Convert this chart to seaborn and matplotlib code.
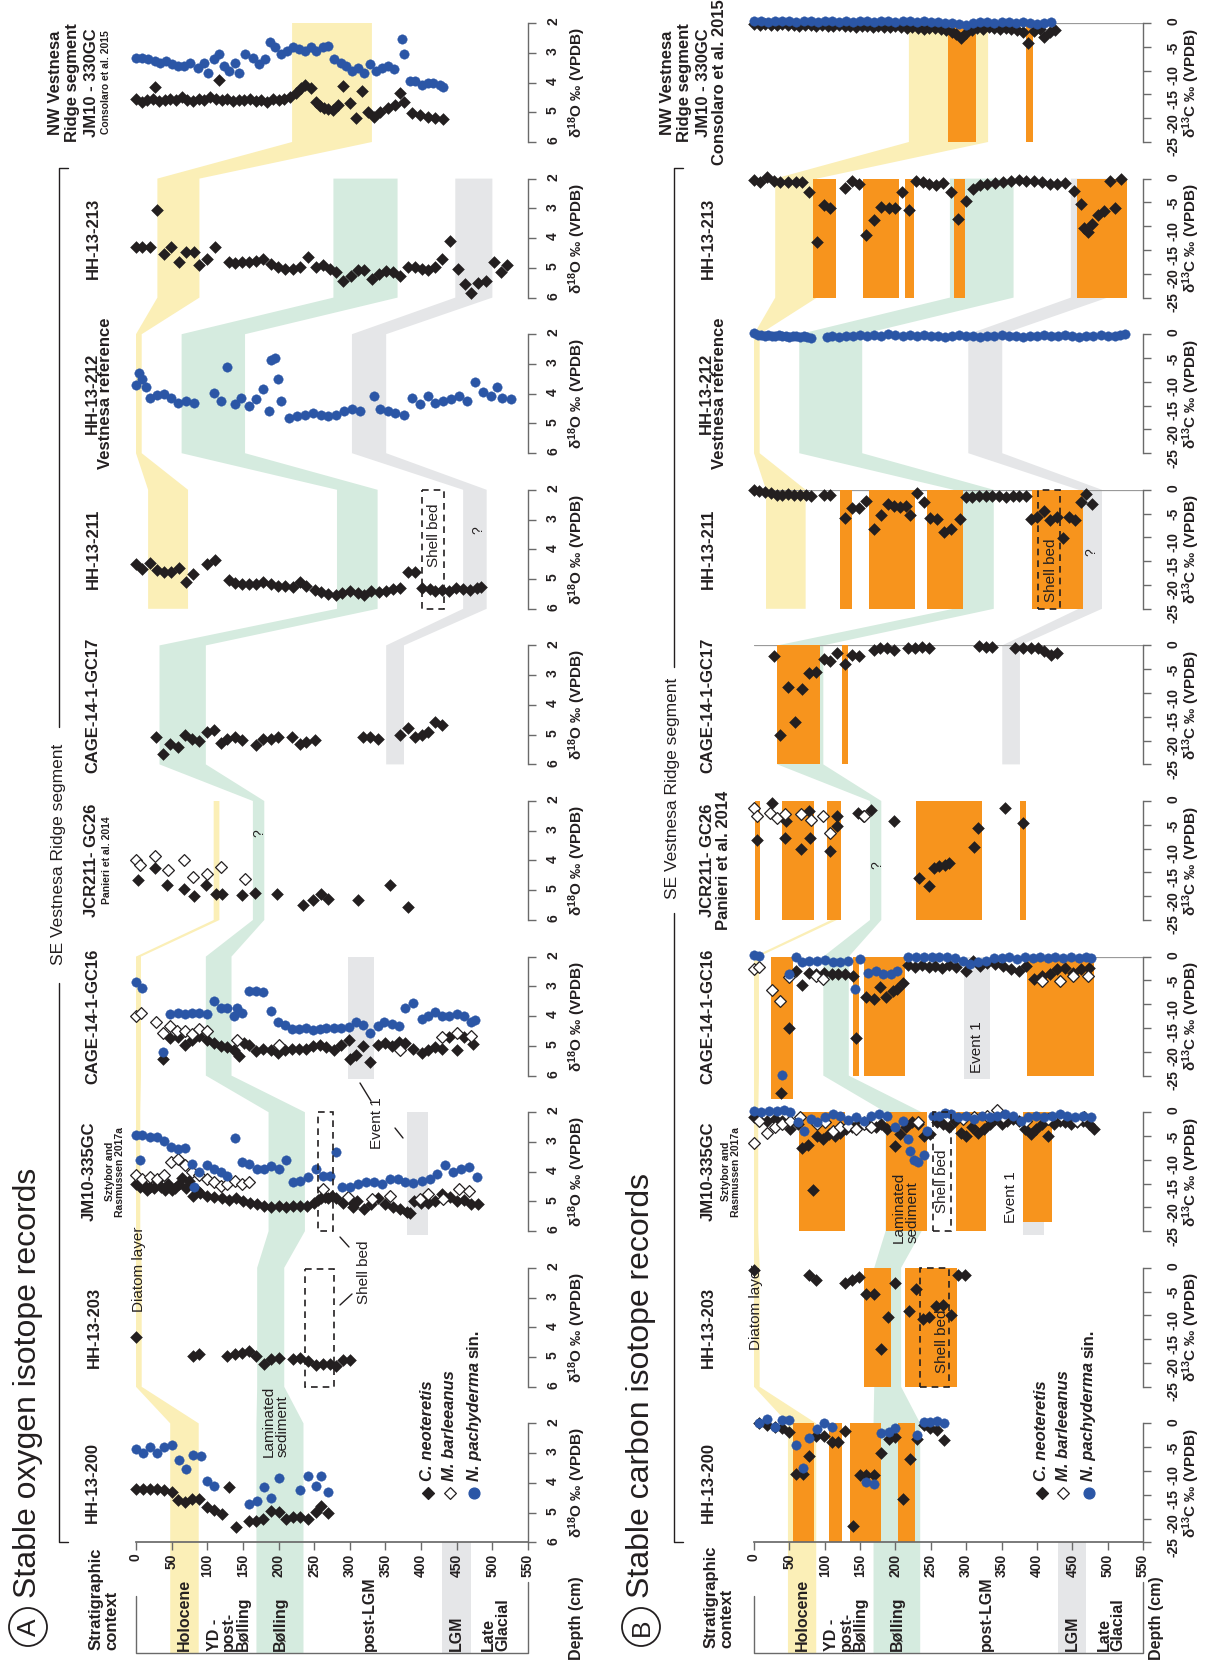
import matplotlib
matplotlib.use("Agg")
import matplotlib.pyplot as plt
from matplotlib.patches import Polygon, Circle, Rectangle
import seaborn as sns

# ---------------- data: panel A, d18O (depth cm, permil) ----------------
a_h200_cn_d = [0, 10, 20, 30, 39, 51, 59, 69, 78, 89, 99, 109, 120, 130, 141, 159, 169, 178, 189, 201, 210, 220, 230, 241, 252, 260, 269]
a_h200_cn_v = [4.20, 4.20, 4.20, 4.20, 4.23, 4.31, 4.59, 4.65, 4.54, 4.54, 4.82, 4.91, 5.04, 4.14, 5.49, 5.27, 5.27, 5.21, 4.93, 4.99, 5.21, 5.16, 5.16, 5.21, 4.99, 4.76, 5.02]
a_h200_np_d = [0, 10, 20, 30, 39, 51, 60, 70, 80, 91, 99, 110, 159, 170, 180, 190, 201, 230, 241, 252, 260, 269]
a_h200_np_v = [2.85, 2.98, 2.79, 2.98, 2.79, 2.73, 3.22, 3.52, 3.07, 3.10, 3.92, 4.12, 4.70, 4.61, 4.14, 4.51, 3.83, 4.25, 3.78, 4.12, 3.78, 4.31]

a_h203_cn_d = [0, 80, 89, 128, 139, 149, 159, 169, 179, 189, 201, 220, 230, 241, 252, 262, 272, 281, 291, 300]
a_h203_cn_v = [4.32, 4.97, 4.89, 4.97, 4.89, 4.86, 4.80, 4.95, 5.25, 5.08, 5.03, 5.08, 5.03, 5.14, 5.28, 5.25, 5.25, 5.31, 5.10, 5.10]

a_jm_cn_d = [0, 5, 10, 15, 20, 25, 30, 35, 40, 45, 50, 55, 60, 65, 70, 75, 80, 85, 90, 100, 110, 120, 130, 140, 150, 160, 170, 180, 190, 200, 210, 220, 230, 240, 250,
             255, 260, 265, 270, 275, 280, 290, 300, 305, 310, 320, 330, 340, 350, 360, 370, 380, 385, 390, 400, 410, 420, 430, 440, 450, 460, 470, 480]
a_jm_cn_v = [4.4, 4.5, 4.4, 4.6, 4.5, 4.55, 4.3, 4.5, 4.6, 4.4, 4.6, 4.55, 4.4, 4.2, 4.55, 4.3, 4.8, 4.6, 4.7, 4.8, 4.85, 4.9, 4.95, 4.9, 5.0, 5.05, 5.1, 5.15, 5.2, 5.15, 5.2, 5.15, 5.15, 5.15, 5.05,
             4.95, 4.9, 4.85, 4.9, 4.8, 4.9, 5.05, 4.95, 5.2, 5.0, 5.25, 5.1, 4.9, 5.1, 5.2, 5.25, 5.35, 5.4, 5.0, 5.05, 5.05, 5.0, 4.75, 4.85, 5.0, 4.95, 5.1, 5.1]
a_jm_np_d = [0, 6, 9, 20, 30, 39, 49, 59, 69, 78, 81, 89, 99, 109, 119, 128, 139, 149, 159, 170, 180, 189, 201, 210, 220, 230, 241, 252, 262, 272,
             281, 289, 300, 312, 323, 334, 345, 356, 367, 378, 389, 401, 412, 423, 434, 445, 456, 467, 478]
a_jm_np_v = [2.78, 3.61, 2.78, 2.85, 2.82, 2.97, 3.16, 3.24, 3.19, 3.73, 4.52, 4.01, 3.78, 3.90, 4.01, 4.13, 2.88, 3.67, 3.73, 3.90, 3.90, 3.81, 3.90, 3.61, 4.35, 4.30, 4.18, 3.90, 4.13, 4.13,
             3.33, 4.52, 4.52, 4.41, 4.35, 4.35, 4.41, 4.24, 4.24, 4.35, 4.38, 4.30, 4.24, 4.07, 3.78, 4.01, 3.90, 3.84, 4.18]
a_jm_mb_d = [0, 9, 20, 30, 39, 49, 59, 69, 78, 89, 99, 109, 119, 128, 139, 149, 159, 262, 298, 331, 356, 398, 409, 431, 453, 467]
a_jm_mb_v = [4.12, 4.24, 4.18, 4.24, 4.12, 3.67, 3.56, 3.78, 4.01, 4.12, 4.24, 4.35, 4.47, 4.41, 4.30, 4.41, 4.35, 4.58, 4.86, 4.92, 4.81, 4.92, 4.75, 4.92, 4.58, 4.64]

a_gc16_np_d = [0, 9, 38, 48, 59, 69, 78, 88, 99, 109, 119, 128, 138, 142, 149, 159, 169, 178, 189, 199, 209, 219, 228, 238, 248, 258, 267, 278, 288, 299,
               309, 319, 329, 339, 348, 359, 369, 378, 389, 401, 410, 420, 430, 439, 450, 460, 470, 476]
a_gc16_np_v = [2.86, 3.05, 5.2, 3.92, 3.9, 3.93, 3.9, 3.9, 3.93, 3.5, 3.72, 3.72, 4.0, 3.72, 3.9, 3.14, 3.14, 3.2, 3.83, 4.2, 4.29, 4.43, 4.43, 4.4, 4.48, 4.43, 4.4, 4.4, 4.4, 4.37,
               4.2, 4.29, 4.57, 4.34, 4.2, 4.26, 4.34, 3.72, 3.57, 4.1, 4.0, 3.87, 4.0, 4.0, 3.93, 4.0, 4.2, 4.12]
a_gc16_cn_d = [38, 48, 59, 69, 78, 88, 99, 109, 119, 128, 138, 144, 151, 159, 169, 178, 189, 199, 209, 219, 228, 238, 248, 258, 267, 278, 288, 299, 300, 309,
               319, 329, 339, 349, 359, 369, 378, 389, 401, 410, 420, 430, 439, 450, 460, 473]
a_gc16_cn_v = [5.43, 4.74, 4.69, 4.97, 4.8, 4.66, 4.8, 4.91, 5.0, 5.05, 5.14, 5.34, 4.89, 4.97, 5.17, 5.09, 5.14, 5.23, 5.14, 5.09, 5.09, 5.09, 5.0, 4.97, 5.05, 5.14, 4.97, 4.8, 5.43, 5.31,
               5.0, 5.54, 4.97, 4.91, 5.0, 4.86, 4.89, 5.09, 5.23, 5.14, 5.05, 5.09, 4.69, 5.14, 4.69, 4.94]
a_gc16_mb_d = [0, 7, 28, 38, 48, 58, 69, 78, 88, 99, 142, 201, 370, 430, 450, 470]
a_gc16_mb_v = [3.98, 3.9, 4.2, 4.57, 4.34, 4.51, 4.51, 4.6, 4.43, 4.51, 4.8, 4.97, 5.14, 4.69, 4.57, 4.66]

a_jcr_cn_d = [3, 26, 44, 67, 81, 98, 112, 120, 149, 167, 198, 234, 248, 259, 270, 312, 356, 381]
a_jcr_cn_v = [4.67, 4.26, 4.81, 4.97, 5.2, 4.81, 5.11, 5.14, 5.17, 5.09, 5.11, 5.48, 5.33, 5.11, 5.31, 5.33, 4.81, 5.56]
a_jcr_mb_d = [0, 6, 26, 45, 67, 80, 99, 119, 153]
a_jcr_mb_v = [4.0, 4.14, 3.86, 4.33, 3.98, 4.56, 4.44, 4.22, 4.63]

a_gc17_cn_d = [28, 38, 48, 59, 69, 79, 89, 99, 109, 119, 128, 139, 149, 169, 178, 189, 199, 219, 230, 239, 251, 319, 329, 339, 370, 381, 391, 401, 410, 420, 430]
a_gc17_cn_v = [5.07, 5.66, 5.3, 5.41, 5.01, 5.13, 5.2, 4.9, 4.84, 5.27, 5.16, 5.09, 5.18, 5.35, 5.16, 5.13, 5.07, 5.09, 5.3, 5.24, 5.18, 5.09, 5.07, 5.16, 5.01, 4.78, 5.07, 5.01, 4.9, 4.56, 4.67]

a_h211_cn_d = [0, 9, 20, 30, 39, 49, 60, 70, 80, 99, 111, 130, 139, 149, 159, 169, 178, 189, 199, 209, 220, 230, 239, 251, 260, 270, 280, 289, 300, 311,
               320, 330, 341, 351, 361, 371, 381, 391, 401, 412, 420, 430, 439, 449, 459, 469, 478, 484]
a_h211_cn_v = [4.5, 4.67, 4.45, 4.69, 4.75, 4.75, 4.64, 5.09, 4.82, 4.5, 4.37, 5.04, 5.12, 5.18, 5.18, 5.15, 5.09, 5.18, 5.23, 5.23, 5.27, 5.09, 5.23, 5.38, 5.43, 5.49, 5.54, 5.46, 5.4, 5.46,
               5.52, 5.4, 5.43, 5.4, 5.35, 5.29, 4.75, 4.75, 5.31, 5.35, 5.4, 5.38, 5.4, 5.31, 5.35, 5.38, 5.31, 5.27]

a_h212_np_d = [0, 4, 9, 14, 20, 30, 39, 49, 59, 70, 81, 109, 119, 128, 139, 148, 159, 169, 178, 186, 189, 195, 199, 204, 214, 226, 237, 248, 259, 270,
               281, 292, 303, 314, 334, 342, 353, 364, 376, 387, 398, 409, 420, 431, 442, 453, 464, 476, 487, 498, 506, 514, 526]
a_h212_np_v = [3.72, 3.32, 3.49, 3.78, 4.13, 4.05, 4.01, 4.13, 4.3, 4.24, 4.3, 3.99, 4.24, 3.09, 4.36, 4.13, 4.41, 4.18, 3.84, 4.59, 2.86, 2.8, 3.49, 4.24, 4.82, 4.76, 4.7, 4.64, 4.7, 4.76,
               4.7, 4.59, 4.53, 4.59, 4.07, 4.53, 4.59, 4.64, 4.7, 4.13, 4.36, 4.07, 4.3, 4.24, 4.18, 4.07, 4.24, 3.61, 3.95, 4.07, 3.78, 4.13, 4.18]

a_h213_cn_d = [0, 9, 20, 30, 39, 49, 60, 70, 81, 89, 99, 111, 130, 139, 149, 159, 169, 178, 189, 199, 209, 220, 230, 241, 252, 262, 272, 281, 291, 301,
               311, 320, 331, 341, 351, 361, 370, 381, 391, 401, 410, 420, 430, 441, 452, 462, 470, 480, 491, 502, 512, 520]
a_h213_cn_v = [4.29, 4.29, 4.29, 3.05, 4.54, 4.29, 4.8, 4.46, 4.46, 4.91, 4.69, 4.29, 4.8, 4.83, 4.8, 4.8, 4.77, 4.69, 4.86, 4.97, 5.03, 5.03, 4.97, 4.65, 4.97, 4.91, 5.03, 5.14, 5.43, 5.26,
               5.06, 5.06, 5.37, 5.2, 5.09, 5.14, 5.26, 4.97, 4.97, 5.03, 5.06, 4.97, 4.69, 4.11, 5.03, 5.54, 5.83, 5.52, 5.43, 4.8, 5.14, 4.91]

a_nw_cn_d = [0, 8, 16, 24, 27, 32, 40, 48, 56, 64, 72, 80, 88, 96, 104, 112, 117, 120, 128, 136, 144, 152, 160, 168, 176, 184, 192, 200, 208, 216,
             224, 232, 237, 245, 253, 264, 276, 291, 300, 309, 317, 326, 334, 342, 353, 364, 370, 376, 387, 398, 409, 420, 431, 258, 270, 284]
a_nw_cn_v = [4.55, 4.65, 4.6, 4.55, 4.16, 4.62, 4.58, 4.55, 4.6, 4.5, 4.6, 4.62, 4.55, 4.6, 4.5, 4.55, 3.9, 4.6, 4.55, 4.62, 4.58, 4.6, 4.55, 4.62, 4.6, 4.65, 4.55, 4.6, 4.55, 4.5,
             4.35, 4.2, 4.07, 4.18, 4.64, 4.86, 4.92, 4.12, 4.69, 5.2, 4.3, 4.98, 5.15, 4.98, 4.86, 4.75, 4.35, 4.64, 5.03, 5.1, 5.15, 5.2, 5.23, 4.8, 4.9, 4.75]
a_nw_np_d = [0, 9, 17, 26, 34, 42, 51, 59, 67, 76, 87, 95, 101, 109, 117, 123, 131, 139, 145, 153, 164, 173, 181, 188, 195, 203, 212, 220, 228, 237,
             245, 253, 262, 270, 278, 287, 295, 303, 312, 320, 328, 337, 345, 353, 362, 373, 376, 384, 392, 401, 409, 417, 426, 431]
a_nw_np_v = [3.16, 3.18, 3.22, 3.27, 3.33, 3.27, 3.39, 3.44, 3.44, 3.33, 3.5, 3.33, 3.67, 3.22, 3.05, 3.44, 3.61, 3.33, 3.67, 3.05, 3.16, 3.39, 3.22, 2.65, 2.82, 3.05, 2.93, 2.82, 2.88, 2.93,
             2.82, 2.93, 2.82, 2.76, 3.22, 3.33, 3.44, 3.61, 3.5, 3.67, 3.39, 3.61, 3.5, 3.44, 3.56, 2.53, 3.05, 3.95, 3.95, 4.07, 4.01, 4.01, 4.07, 4.16]

# ---------------- data: panel B, d13C ----------------
b_h200_cn_d = [7, 18, 29, 40, 49, 59, 69, 78, 88, 99, 110, 119, 129, 140, 150, 159, 170, 180, 191, 200, 210, 221, 231, 240, 249, 259, 268]
b_h200_cn_v = [0, -0.4, -0.7, -0.9, -1.8, -10.6, -10.6, -6.8, -2.6, -2.6, -3.9, -3.9, -1.6, -21.5, -10.9, -10.9, -10.9, -6.3, -3.2, -2.8, -15.8, -7.4, -3.2, -0.35, -0.9, -1.4, -3.4]
b_h200_np_d = [7, 18, 29, 40, 49, 59, 69, 78, 89, 99, 110, 159, 169, 180, 191, 200, 231, 240, 249, 259, 268]
b_h200_np_v = [0, 0.9, -0.7, 0.7, 0.7, -4.6, -9.4, -3.0, -1.1, 0, -0.7, -12.3, -12.7, -2.1, -1.9, -0.9, -2.5, 0.35, 0.35, 0.5, 0]

b_h203_cn_d = [0, 78, 88, 129, 139, 148, 159, 170, 180, 189, 200, 219, 229, 239, 248, 258, 267, 278, 289, 298]
b_h203_cn_v = [-0.4, -1.6, -2.6, -3.1, -2.6, -2.0, -5.6, -5.6, -17, -10.3, -3.1, -9.1, -4.5, -10.8, -10.3, -8.1, -7.8, -9.9, -1.6, -1.6]

b_jm_cn_d = [0, 7, 18, 29, 40, 51, 62, 68, 76, 83, 89, 98, 106, 114, 122, 130, 139, 147, 155, 163, 172, 180, 188, 199, 207, 215, 224, 232, 240, 249,
             259, 267, 276, 284, 292, 300, 308, 317, 325, 333, 341, 350, 358, 366, 374, 383, 391, 399, 407, 415, 424, 432, 440, 448, 456, 465, 473, 481]
b_jm_cn_v = [-1.1, -1.6, -1.8, -1.4, -1.9, -3.6, -2.5, -7.5, -6.8, -16.4, -5.0, -5.7, -4.6, -5.0, -4.3, -3.6, -3.2, -2.5, -2.1, -2.9, -3.2, -2.4, -3.6, -7.1, -4.6, -3.2, -2.1, -2.5, -5.0, -4.6,
             -2.1, -2.5, -3.1, -1.8, -4.3, -5.0, -3.2, -4.3, -3.6, -2.5, -1.4, -2.5, -1.9, -1.4, -1.8, -3.6, -4.6, -3.6, -2.5, -5.0, -2.5, -1.8, -2.1, -2.5, -2.1, -1.8, -2.4, -3.6]
b_jm_np_d = [0, 10, 21, 32, 43, 51, 62, 70, 81, 89, 100, 111, 122, 133, 144, 155, 166, 177, 188, 199, 210, 218, 221, 226, 232, 240, 245, 253, 262, 270,
             278, 289, 300, 311, 322, 333, 344, 355, 366, 377, 388, 399, 410, 421, 432, 443, 454, 465, 476]
b_jm_np_v = [0.2, 0.1, 0.2, 0.2, 0.4, 0, -2.1, -3.9, -1.4, -2.1, -1.1, -0.4, -0.9, -1.6, -1.1, -1.8, -0.7, -0.4, -0.9, -3.1, -1.8, -5.7, -8.2, -10.0, -10.4, -8.9, -3.9, -0.7, -0.7, -0.2,
             -0.4, -1.1, -0.7, -1.4, -0.7, -1.1, -0.7, -0.4, -0.7, -1.8, -1.1, -0.7, -1.1, -0.7, -0.4, -0.7, -1.1, -0.7, -1.1]
b_jm_mb_d = [0, 7, 18, 29, 40, 51, 65, 89, 100, 111, 122, 133, 144, 155, 166, 232, 295, 311, 330, 344, 352, 385, 415, 434, 456, 467]
b_jm_mb_v = [-6.4, -1.8, -4.3, -3.2, -2.5, -1.8, -1.1, -2.5, -2.1, -3.9, -3.2, -2.9, -3.6, -2.5, -3.2, -2.1, -1.4, -1.1, -0.7, 0.4, -1.1, -1.8, -1.4, -0.7, -1.8, -1.1]

b_gc16_cn_d = [38, 49, 59, 68, 78, 88, 99, 110, 119, 129, 140, 144, 158, 169, 178, 187, 196, 202, 210, 218, 227, 237, 247, 256, 266, 276, 285, 300, 310, 319,
               330, 341, 352, 363, 374, 385, 396, 407, 418, 429, 440, 451, 462, 473]
b_gc16_cn_v = [-28.7, -15.1, -3.0, -5.9, -3.4, -3.7, -3.4, -3.6, -3.6, -3.7, -4.1, -17.1, -8.4, -8.9, -6.3, -8.4, -7.3, -6.9, -5.5, -1.7, -2.1, -1.7, -2.1, -1.9, -2.3, -1.7, -2.1, -3.0, -1.0, -1.9,
               -1.4, -1.6, -1.9, -2.6, -3.0, -1.9, -4.8, -4.1, -3.7, -2.6, -2.3, -3.4, -2.6, -2.3]
b_gc16_np_d = [0, 7, 39, 49, 59, 68, 78, 89, 100, 111, 122, 133, 143, 150, 161, 172, 183, 194, 202, 218, 229, 240, 251, 262, 273, 284, 295, 306, 317, 328,
               339, 350, 361, 372, 383, 394, 405, 415, 426, 437, 448, 459, 470, 477]
b_gc16_np_v = [0.4, 0.2, -24.8, -3.7, 0, -1.2, -0.9, -0.9, -0.7, -1.1, -1.2, -0.9, -6.8, -0.5, -3.4, -3.1, -3.7, -3.7, -3.0, -0.1, -0.1, 0, -0.1, 0, -0.1, -0.3, -0.9, -1.6, -1.2, -0.9,
               -0.3, -0.3, -0.1, -0.5, -0.1, -0.3, -0.1, -0.3, -0.1, -0.3, -0.1, -0.3, -0.1, -0.3]
b_gc16_mb_d = [0, 7, 26, 37, 49, 87, 98, 407, 432, 451, 472]
b_gc16_mb_v = [-2.6, -2.1, -7.1, -9.4, -4.3, -4.1, -4.8, -5.1, -5.1, -4.1, -4.1]

b_jcr_cn_d = [4, 26, 44, 45, 66, 78, 79, 107, 118, 118, 147, 154, 166, 198, 233, 247, 255, 262, 270, 276, 311, 317, 355, 381]
b_jcr_cn_v = [-8.1, -0.35, -7.7, -4.2, -10.1, -2.1, -7.8, -10.6, -3.2, -5.3, -2.5, -3.2, -1.8, -4.2, -16.2, -17.9, -14.1, -13.7, -13.4, -13.1, -9.7, -5.7, -1.4, -4.6]
b_jcr_mb_d = [0, 4, 23, 32, 44, 66, 81, 97, 108, 155]
b_jcr_mb_v = [-1.4, -3.2, -2.5, -3.5, -2.8, -2.8, -3.9, -3.2, -6.7, -3.2]

b_gc17_cn_d = [28, 37, 48, 58, 68, 78, 88, 99, 108, 118, 129, 139, 148, 169, 178, 188, 198, 218, 227, 237, 247, 318, 328, 337, 369, 380, 391, 401, 410, 420, 429]
b_gc17_cn_v = [-2.3, -18.8, -8.7, -16.1, -9.2, -5.8, -5.6, -2.8, -3.2, -1.6, -4.0, -2.1, -2.3, -0.9, -0.5, -0.6, -1.0, -0.5, -0.5, -0.35, -0.5, -0.1, -0.35, -0.35, -0.6, -0.6, -0.5, -0.6, -1.1, -2.1, -1.6]

b_h211_cn_d = [0, 7, 15, 24, 32, 40, 48, 56, 65, 73, 81, 99, 108, 129, 139, 148, 159, 169, 180, 189, 198, 207, 215, 221, 231, 240, 249, 259, 269, 278,
               291, 300, 308, 318, 328, 337, 347, 357, 366, 375, 385, 392, 400, 410, 418, 429, 437, 445, 454, 462, 470, 478]
b_h211_cn_v = [0, -0.3, -0.5, -0.7, -1.0, -1.0, -0.9, -1.0, -1.0, -1.0, -1.2, -1.0, -1.0, -5.9, -3.9, -3.8, -2.4, -8.2, -5.2, -2.9, -3.4, -3.6, -3.4, -5.2, -0.7, -2.5, -5.9, -6.1, -8.9, -8.2,
               -6.1, -1.6, -1.6, -1.4, -1.2, -1.4, -1.4, -1.6, -1.2, -1.4, -1.2, -6.1, -5.7, -4.5, -6.4, -5.7, -10.1, -5.7, -6.4, -2.5, -0.9, -2.9]

b_h212_np_d = [0, 5, 10, 15, 20, 25, 30, 35, 40, 45, 50, 55, 60, 65, 70, 75, 81, 103, 110, 120, 130, 140, 150, 160, 170, 180, 190, 200, 210, 220,
               230, 240, 250, 260, 270, 280, 290, 300, 310, 320, 330, 340, 350, 360, 370, 380, 390, 400, 410, 420, 430, 440, 450, 460, 470, 480, 490, 500, 510, 518, 525]
b_h212_np_v = [0.3, -0.1, -0.2, -0.3, -0.2, -0.4, -0.3, -0.2, -0.4, -0.3, -0.5, -0.3, -0.4, -0.6, -0.4, -0.5, -0.7, -0.6, -0.4, -0.5, -0.3, -0.4, -0.2, -0.3, -0.2, -0.4, 0.1, -0.2, -0.3, -0.1,
               -0.3, -0.2, -0.4, -0.3, -0.5, -0.3, -0.2, -0.4, -0.3, -0.5, -0.4, -0.3, -0.2, -0.4, -0.3, -0.5, -0.4, -0.3, -0.2, -0.4, -0.3, -0.2, -0.4, -0.5, -0.3, -0.4, -0.2, -0.3, -0.4, -0.2, 0.0]

b_h213_cn_d = [0, 8, 18, 28, 37, 48, 59, 68, 78, 89, 99, 108, 129, 139, 148, 159, 170, 180, 191, 200, 209, 219, 229, 239, 248, 258, 267, 278, 289, 300,
               310, 319, 330, 341, 352, 363, 374, 385, 396, 407, 418, 429, 440, 452, 462, 467, 472, 478, 487, 495, 503, 511, 519]
b_h213_cn_v = [-0.2, -0.7, 0.4, -0.5, -0.7, -0.7, -0.7, -0.7, -2.8, -13.3, -5.6, -6.2, -1.9, -0.6, -1.2, -11.8, -8.7, -6.0, -6.2, -6.2, -2.9, -6.6, -0.6, -0.7, -1.1, -1.4, -0.9, -2.9, -8.4, -4.7,
               -2.2, -1.4, -1.1, -0.9, -0.7, -0.5, -0.2, -0.4, -0.5, -0.7, -1.1, -1.2, -0.9, -2.5, -5.4, -10.4, -11.2, -9.6, -7.6, -6.9, -0.4, -6.2, 0]

b_nw_cn_d = [0, 8, 16, 24, 32, 40, 48, 56, 64, 72, 80, 88, 96, 104, 112, 120, 128, 136, 144, 152, 160, 168, 176, 184, 192, 200, 208, 216, 224, 232,
             240, 248, 256, 264, 272, 280, 286, 292, 300, 308, 316, 324, 332, 340, 348, 356, 364, 372, 380, 388, 396, 404, 410, 418, 425]
b_nw_cn_v = [-0.3, -0.4, -0.3, -0.5, -0.4, -0.3, -0.5, -0.4, -0.6, -0.5, -0.4, -0.6, -0.5, -0.7, -0.6, -0.5, -0.7, -0.6, -0.8, -0.7, -0.6, -0.8, -0.7, -0.9, -0.8, -0.7, -0.9, -1.0, -0.9, -1.1,
             -1.2, -1.0, -1.1, -1.3, -1.5, -1.8, -2.4, -3.2, -2.1, -1.4, -1.0, -1.2, -0.9, -1.1, -1.3, -1.0, -1.2, -1.5, -1.8, -4.3, -1.6, -1.3, -2.9, -1.8, -1.5]
b_nw_np_d = [0, 10, 20, 30, 40, 50, 60, 70, 80, 90, 100, 110, 120, 130, 140, 150, 160, 170, 180, 190, 200, 210, 220, 230, 240, 250, 260, 270, 280, 290,
             300, 310, 320, 330, 340, 350, 360, 370, 380, 390, 400, 410, 420]
b_nw_np_v = [0.4, 0.5, 0.3, 0.4, 0.5, 0.4, 0.3, 0.5, 0.4, 0.3, 0.4, 0.5, 0.3, 0.4, 0.3, 0.5, 0.4, 0.3, 0.4, 0.5, 0.3, 0.4, 0.5, 0.3, 0.4, 0.2, 0.3, 0.1, 0.0, -0.2,
             -0.5, 0.0, 0.2, 0.3, 0.1, 0.2, 0.3, 0.1, 0.2, 0.0, -0.3, 0.1, 0.2]

# orange intervals (depth from, depth to, lower d13C end)
or_cores = ["h200", "h203", "jm", "gc16", "jcr", "gc17", "h211", "h213", "nw"]
or_from = [[55, 106, 136, 203], [155, 213], [63, 187, 285, 381], [24, 140, 156, 386], [2, 40, 103, 229, 376],
           [33, 125], [122, 163, 245, 393], [84, 154, 214, 283, 456], [274, 385]]
or_to = [[85, 125, 179, 227], [193, 287], [129, 244, 328, 422], [55, 148, 213, 481], [9, 85, 123, 322, 385],
         [94, 133], [138, 228, 295, 465], [116, 205, 226, 299, 528], [314, 395]]
or_low = [[-25] * 4, [-25] * 2, [-25, -25, -25, -23], [-30, -25, -25, -25], [-25] * 5,
          [-25] * 2, [-25] * 4, [-25] * 5, [-25] * 2]

# correlation bands (depth ranges per core)
yel1_cores = ["h200", "h203", "jm", "gc16", "jcr"]
yel1_top = [48, 0, 0, 0, 109]
yel1_bot = [88, 8, 6, 7, 117]
yel2_cores = ["h211", "h212", "h213", "nw"]
yel2_top = [17, 0, 30, 219]
yel2_bot = [73, 8, 89, 331]
grn_cores = ["h200", "h203", "jm", "gc16", "jcr", "gc17", "h211", "h212", "h213"]
grn_top = [169, 170, 186, 98, 164, 33, 282, 64, 277]
grn_bot = [235, 208, 237, 134, 180, 98, 339, 153, 367]
gry_cores = ["gc17", "h211", "h212", "h213"]
gry_top = [351, 459, 303, 448]
gry_bot = [376, 492, 351, 500]
ev_cores = ["gc16", "jm"]
ev_top = [297, 380]
ev_bot = [334, 410]
lgm_range = [430, 470]
a_shell_cores = ["h203", "jm", "h211"]
a_shell_top = [237, 256, 401]
a_shell_bot = [278, 277, 432]
b_shell_cores = ["h203", "jm", "h211"]
b_shell_top = [235, 253, 402]
b_shell_bot = [276, 278, 432]

strat_labels = ["Holocene", "YD -\npost-\nBølling", "Bølling", "post-LGM", "LGM", "Late\nGlacial"]
strat_depth = [68, 130, 203, 328, 450, 505]
depth_ticks = list(range(0, 551, 50))

# ---------------- style ----------------
sns.set_theme(style="white")
plt.rcParams["font.family"] = ["Liberation Sans", "DejaVu Sans"]
plt.rcParams["font.weight"] = "bold"
plt.rcParams["axes.unicode_minus"] = False
plt.rcParams["mathtext.fontset"] = "custom"
plt.rcParams["mathtext.rm"] = "Liberation Sans:bold"
plt.rcParams["mathtext.bf"] = "Liberation Sans:bold"
plt.rcParams["mathtext.it"] = "Liberation Sans:bold:italic"

INK = "#231f20"
AXC = "#6a6a6a"
YEL = "#fbefb7"
GRN = "#d5ebdf"
GRY = "#e5e6e8"
ORG = "#f7941d"
BLU = "#2b56a6"

W, H = 1208, 1663
fig = plt.figure(figsize=(W / 100, H / 100), dpi=100)
bg = fig.add_axes([0, 0, 1, 1])
bg.set_xlim(0, W)
bg.set_ylim(H, 0)
bg.axis("off")

core_order = ["nw", "h213", "h212", "h211", "gc17", "jcr", "gc16", "jm", "h203", "h200"]
COL_TOP, COL_STEP, COL_H = 23, 155.6, 119
STRAT_BOT = 1653


def column(x0, x1, i, ylim, yticks, pad):
    top = COL_TOP + COL_STEP * i
    ax = fig.add_axes([x0 / W, 1 - (top + COL_H) / H, (x1 - x0) / W, COL_H / H])
    ax.patch.set_alpha(0)
    ax.set_xlim(0, 550)
    ax.set_ylim(*ylim)
    for s in ["top", "left", "bottom"]:
        ax.spines[s].set_visible(False)
    ax.spines["right"].set_color(AXC)
    ax.spines["right"].set_linewidth(1)
    ax.yaxis.tick_right()
    ax.set_yticks(yticks)
    ax.set_xticks([])
    ax.tick_params(axis="y", right=True, direction="out", length=6, width=1, color=AXC,
                   labelsize=10, labelrotation=90, pad=pad, labelcolor=INK)
    return ax


axA = {c: column(136, 528, i, (6, 2), [2, 3, 4, 5, 6], 7) for i, c in enumerate(core_order)}
axB = {c: column(754, 1143, i, (-25, 0), [-25, -20, -15, -10, -5, 0], 11) for i, c in enumerate(core_order)}

# overlay for labels, drawn above everything
fg = fig.add_axes([0, 0, 1, 1])
fg.set_xlim(0, W)
fg.set_ylim(H, 0)
fg.axis("off")
fg.patch.set_alpha(0)

for ax in (axA["h200"], axB["h200"]):
    ax.spines["bottom"].set_visible(True)
    ax.spines["bottom"].set_color(AXC)
    ax.set_xticks(depth_ticks)
    ax.tick_params(axis="x", bottom=True, direction="out", length=6, width=1, color=AXC,
                   labelsize=10, labelrotation=90, pad=2, labelcolor=INK)

for c in core_order:
    axA[c].text(1.125, 0.5, r"δ$^{18}$O ‰ (VPDB)", transform=axA[c].transAxes, rotation=90,
                ha="center", va="center", fontsize=11, color=INK)
    axB[c].text(1.125, 0.5, r"δ$^{13}$C ‰ (VPDB)", transform=axB[c].transAxes, rotation=90,
                ha="center", va="center", fontsize=11, color=INK)


# ---------------- correlation bands ----------------
def to_bg(ax, pts):
    return bg.transData.inverted().transform(ax.get_xaxis_transform().transform(pts))


def chain(axd, cores, tops, bots, color, extend=None):
    items = sorted(zip(cores, tops, bots), key=lambda t: core_order.index(t[0]))
    left, right = [], []
    for c, t, b in items:
        left.extend(to_bg(axd[c], [(t, 1), (t, 0)]))
        right.extend(to_bg(axd[c], [(b, 1), (b, 0)]))
    if extend is not None:
        left.append((left[-1][0], extend))
        right.append((right[-1][0], extend))
    pts = list(left) + list(right)[::-1]
    bg.add_patch(Polygon(pts, closed=True, facecolor=color, edgecolor="none", zorder=0))


for axd in (axA, axB):
    chain(axd, yel1_cores, yel1_top, yel1_bot, YEL, STRAT_BOT)
    chain(axd, yel2_cores, yel2_top, yel2_bot, YEL)
    chain(axd, grn_cores, grn_top, grn_bot, GRN, STRAT_BOT)
    chain(axd, gry_cores, gry_top, gry_bot, GRY)
    p = to_bg(axd["h200"], [(lgm_range[0], 0), (lgm_range[1], 0)])
    bg.add_patch(Rectangle((p[0][0], p[0][1]), p[1][0] - p[0][0], STRAT_BOT - p[0][1],
                           facecolor=GRY, edgecolor="none", zorder=0))
    for c, t, b in zip(ev_cores, ev_top, ev_bot):
        axd[c].axvspan(t, b, ymin=-0.03, ymax=1, color=GRY, zorder=0, lw=0, clip_on=False)
    # stratigraphic box
    x0 = to_bg(axd["h200"], [(0, 0)])[0][0]
    x1 = to_bg(axd["h200"], [(550, 0)])[0][0]
    fg.plot([x0, x0, x1, x1], [1596, STRAT_BOT, STRAT_BOT, 1582], color=AXC, lw=1, zorder=1)
    for lab, d in zip(strat_labels, strat_depth):
        x = to_bg(axd["h200"], [(d, 0)])[0][0]
        fg.text(x, STRAT_BOT - 2, lab, rotation=90, ha="center", va="bottom", fontsize=11.5,
                color=INK, linespacing=0.95, multialignment="left", zorder=2)

# orange intervals and zero lines in panel B
for c, f, t, lo in zip(or_cores, or_from, or_to, or_low):
    axB[c].bar(f, lo, width=[b - a for a, b in zip(f, t)], bottom=0, align="edge",
               color=ORG, linewidth=0, zorder=1, clip_on=False)
for c, x0 in zip(["gc17", "h211", "gc16", "nw"], [0, 0, 480, 425]):
    axB[c].axhline(0, xmin=x0 / 550, xmax=1, color="#9a9a9a", lw=0.9, zorder=0.5)


# ---------------- data points ----------------
def cn(ax, d, v):
    sns.scatterplot(x=d, y=v, ax=ax, marker="D", s=36, color=INK, edgecolor=INK,
                    linewidth=0.4, zorder=3, clip_on=False, legend=False)


def mb(ax, d, v):
    sns.scatterplot(x=d, y=v, ax=ax, marker="D", s=36, color="white", edgecolor=INK,
                    linewidth=0.9, zorder=3.5, clip_on=False, legend=False)


def npch(ax, d, v):
    sns.scatterplot(x=d, y=v, ax=ax, marker="o", s=46, color=BLU, edgecolor=BLU,
                    linewidth=0.3, zorder=4, clip_on=False, legend=False)


cn(axA["h200"], a_h200_cn_d, a_h200_cn_v)
npch(axA["h200"], a_h200_np_d, a_h200_np_v)
cn(axA["h203"], a_h203_cn_d, a_h203_cn_v)
cn(axA["jm"], a_jm_cn_d, a_jm_cn_v)
mb(axA["jm"], a_jm_mb_d, a_jm_mb_v)
npch(axA["jm"], a_jm_np_d, a_jm_np_v)
cn(axA["gc16"], a_gc16_cn_d, a_gc16_cn_v)
mb(axA["gc16"], a_gc16_mb_d, a_gc16_mb_v)
npch(axA["gc16"], a_gc16_np_d, a_gc16_np_v)
cn(axA["jcr"], a_jcr_cn_d, a_jcr_cn_v)
mb(axA["jcr"], a_jcr_mb_d, a_jcr_mb_v)
cn(axA["gc17"], a_gc17_cn_d, a_gc17_cn_v)
cn(axA["h211"], a_h211_cn_d, a_h211_cn_v)
npch(axA["h212"], a_h212_np_d, a_h212_np_v)
cn(axA["h213"], a_h213_cn_d, a_h213_cn_v)
cn(axA["nw"], a_nw_cn_d, a_nw_cn_v)
npch(axA["nw"], a_nw_np_d, a_nw_np_v)

cn(axB["h200"], b_h200_cn_d, b_h200_cn_v)
npch(axB["h200"], b_h200_np_d, b_h200_np_v)
cn(axB["h203"], b_h203_cn_d, b_h203_cn_v)
cn(axB["jm"], b_jm_cn_d, b_jm_cn_v)
mb(axB["jm"], b_jm_mb_d, b_jm_mb_v)
npch(axB["jm"], b_jm_np_d, b_jm_np_v)
cn(axB["gc16"], b_gc16_cn_d, b_gc16_cn_v)
mb(axB["gc16"], b_gc16_mb_d, b_gc16_mb_v)
npch(axB["gc16"], b_gc16_np_d, b_gc16_np_v)
cn(axB["jcr"], b_jcr_cn_d, b_jcr_cn_v)
mb(axB["jcr"], b_jcr_mb_d, b_jcr_mb_v)
cn(axB["gc17"], b_gc17_cn_d, b_gc17_cn_v)
cn(axB["h211"], b_h211_cn_d, b_h211_cn_v)
npch(axB["h212"], b_h212_np_d, b_h212_np_v)
cn(axB["h213"], b_h213_cn_d, b_h213_cn_v)
npch(axB["nw"], b_nw_np_d, b_nw_np_v)
cn(axB["nw"], b_nw_cn_d, b_nw_cn_v)

# dashed shell-bed boxes
for c, t, b in zip(a_shell_cores, a_shell_top, a_shell_bot):
    y0 = 2.05 if c == "h203" else 2
    axA[c].add_patch(Rectangle((t, y0), b - t, 6 - y0, fill=False, ls=(0, (4, 3)), lw=1.2,
                               ec=INK, zorder=5, clip_on=False))
for c, t, b in zip(b_shell_cores, b_shell_top, b_shell_bot):
    axB[c].add_patch(Rectangle((t, -25), b - t, 25, fill=False, ls=(0, (4, 3)), lw=1.2,
                               ec=INK, zorder=5, clip_on=False))

for axd in (axA, axB):
    for ax in axd.values():
        ax.set_xlim(0, 550)
        ax.set_xlabel("")
        ax.set_ylabel("")
for ax in axA.values():
    ax.set_ylim(6, 2)
for ax in axB.values():
    ax.set_ylim(-25, 0)


# ---------------- text on the page ----------------
def rt(x, y, s, size, weight="bold", va="center", style="normal", ha="center", **kw):
    return fg.text(x, y, s, rotation=90, fontsize=size, fontweight=weight, fontstyle=style,
                   ha=ha, va=va, color=INK, zorder=6, **kw)


def ccenter(c):
    return COL_TOP + COL_STEP * core_order.index(c) + COL_H / 2


# panel titles
for cx, letter, title in [(28, "A", "Stable oxygen isotope records"), (641, "B", "Stable carbon isotope records")]:
    fg.add_patch(Circle((cx, 1627), 19, fill=False, ec=INK, lw=1.3))
    rt(cx + 1, 1627, letter, 19, weight="normal")
    rt(cx, 1598, title, 23, weight="normal", va="bottom")

# column labels
a_lab = {"nw": [(55, "NW Vestnesa", 12), (73, "Ridge segment", 12), (91, "JM10 - 330GC", 12), (106, "Consolaro et al. 2015", 7.5)],
         "h213": [(93, "HH-13-213", 12)],
         "h212": [(92, "HH-13-212", 12), (106, "Vestnesa reference", 12)],
         "h211": [(93, "HH-13-211", 12)],
         "gc17": [(93, "CAGE-14-1-GC17", 12)],
         "jcr": [(92, "JCR211- GC26", 12), (107, "Panieri et al. 2014", 7.5)],
         "gc16": [(93, "CAGE-14-1-GC16", 12)],
         "jm": [(89, "JM10-335GC", 12), (110, "Sztybor and", 7.5), (120, "Rasmussen 2017a", 7.5)],
         "h203": [(94, "HH-13-203", 12)],
         "h200": [(92, "HH-13-200", 12)]}
b_lab = {"nw": [(668, "NW Vestnesa", 12), (685, "Ridge segment", 12), (703, "JM10 - 330GC", 12), (720, "Consolaro et al. 2015", 12)],
         "h213": [(708, "HH-13-213", 12)],
         "h212": [(706, "HH-13-212", 12), (720, "Vestnesa reference", 12)],
         "h211": [(708, "HH-13-211", 12)],
         "gc17": [(708, "CAGE-14-1-GC17", 12)],
         "jcr": [(708, "JCR211- GC26", 12), (724, "Panieri et al. 2014", 12)],
         "gc16": [(708, "CAGE-14-1-GC16", 12)],
         "jm": [(708, "JM10-335GC", 12), (726, "Sztybor and", 7.5), (736, "Rasmussen 2017a", 7.5)],
         "h203": [(708, "HH-13-203", 12)],
         "h200": [(708, "HH-13-200", 12)]}
for labs in (a_lab, b_lab):
    for c, lines in labs.items():
        for x, s, fs in lines:
            rt(x, ccenter(c), s, fs)

# stratigraphic context, depth label
rt(104, 1650, "Stratigraphic\ncontext", 12, va="bottom", multialignment="left", linespacing=1.0)
rt(719, 1648, "Stratigraphic\ncontext", 12, va="bottom", multialignment="left", linespacing=1.0)
rt(577, 1660, "Depth (cm)", 11.5, va="bottom")
rt(1157, 1660, "Depth (cm)", 11.5, va="bottom")

# SE segment brackets
for x, y_up, y_lo, yc in [(59, 727, 983, 854), (674, 667, 913, 788)]:
    fg.plot([x + 9, x, x], [168, 168, y_up], color=INK, lw=1)
    fg.plot([x, x, x + 9], [y_lo, 1542, 1542], color=INK, lw=1)
    rt(x - 1, yc, "SE Vestnesa Ridge segment", 12.5, weight="normal")

# annotations panel A
rt(139, 1312, "Diatom layer", 11, weight="normal", va="bottom")
rt(276, 1457, "Laminated\nsediment", 11, weight="normal", va="bottom", multialignment="left", linespacing=1.0)
rt(364, 1304, "Shell bed", 11, weight="normal", va="bottom")
rt(434, 567, "Shell bed", 11, weight="normal", va="bottom")
rt(377, 1149, "Event 1", 11, weight="normal", va="bottom")
rt(259, 833, "?", 10, weight="normal")
rt(478, 530, "?", 10, weight="normal")
for xs, ys in [([340, 352], [1305, 1294]), ([340, 349], [1237, 1247]), ([360, 371], [1083, 1101]), ([395, 403], [1128, 1138])]:
    fg.plot(xs, ys, color=INK, lw=1)

# annotations panel B
rt(756, 1350, "Diatom layer", 11, weight="normal", va="bottom")
rt(906, 1243, "Laminated\nsediment", 11, weight="normal", va="bottom", multialignment="left", linespacing=1.0)
rt(942, 1373, "Shell bed", 11, weight="normal", va="bottom")
rt(942, 1213, "Shell bed", 11, weight="normal", va="bottom")
rt(1051, 602, "Shell bed", 11, weight="normal", va="bottom")
rt(977, 1073, "Event 1", 11, weight="normal", va="bottom")
rt(1011, 1223, "Event 1", 11, weight="normal", va="bottom")
rt(877, 865, "?", 10, weight="normal")
rt(1091, 552, "?", 10, weight="normal")

# legends
sin_texts = []
for xs in ([428, 450, 474], [1042, 1063, 1089]):
    fg.scatter([xs[0]], [1493], marker="D", s=36, color=INK, zorder=6)
    fg.scatter([xs[1]], [1493], marker="D", s=36, facecolor="white", edgecolor=INK, linewidth=0.9, zorder=6)
    fg.scatter([xs[2]], [1493], marker="o", s=60, color=BLU, zorder=6)
    rt(xs[0], 1481, "C. neoteretis", 12, style="italic", va="bottom")
    rt(xs[1], 1481, "M. barleeanus", 12, style="italic", va="bottom")
    sin_texts.append(rt(xs[2], 1481, "N. pachyderma", 12, style="italic", va="bottom"))

fig.canvas.draw()
renderer = fig.canvas.get_renderer()
for t in sin_texts:
    bb = t.get_window_extent(renderer)
    ytop = H - bb.y1
    rt(t.get_position()[0], ytop - 4, "sin.", 12, va="bottom")

fig.savefig("out.png", dpi=100, facecolor="white")
